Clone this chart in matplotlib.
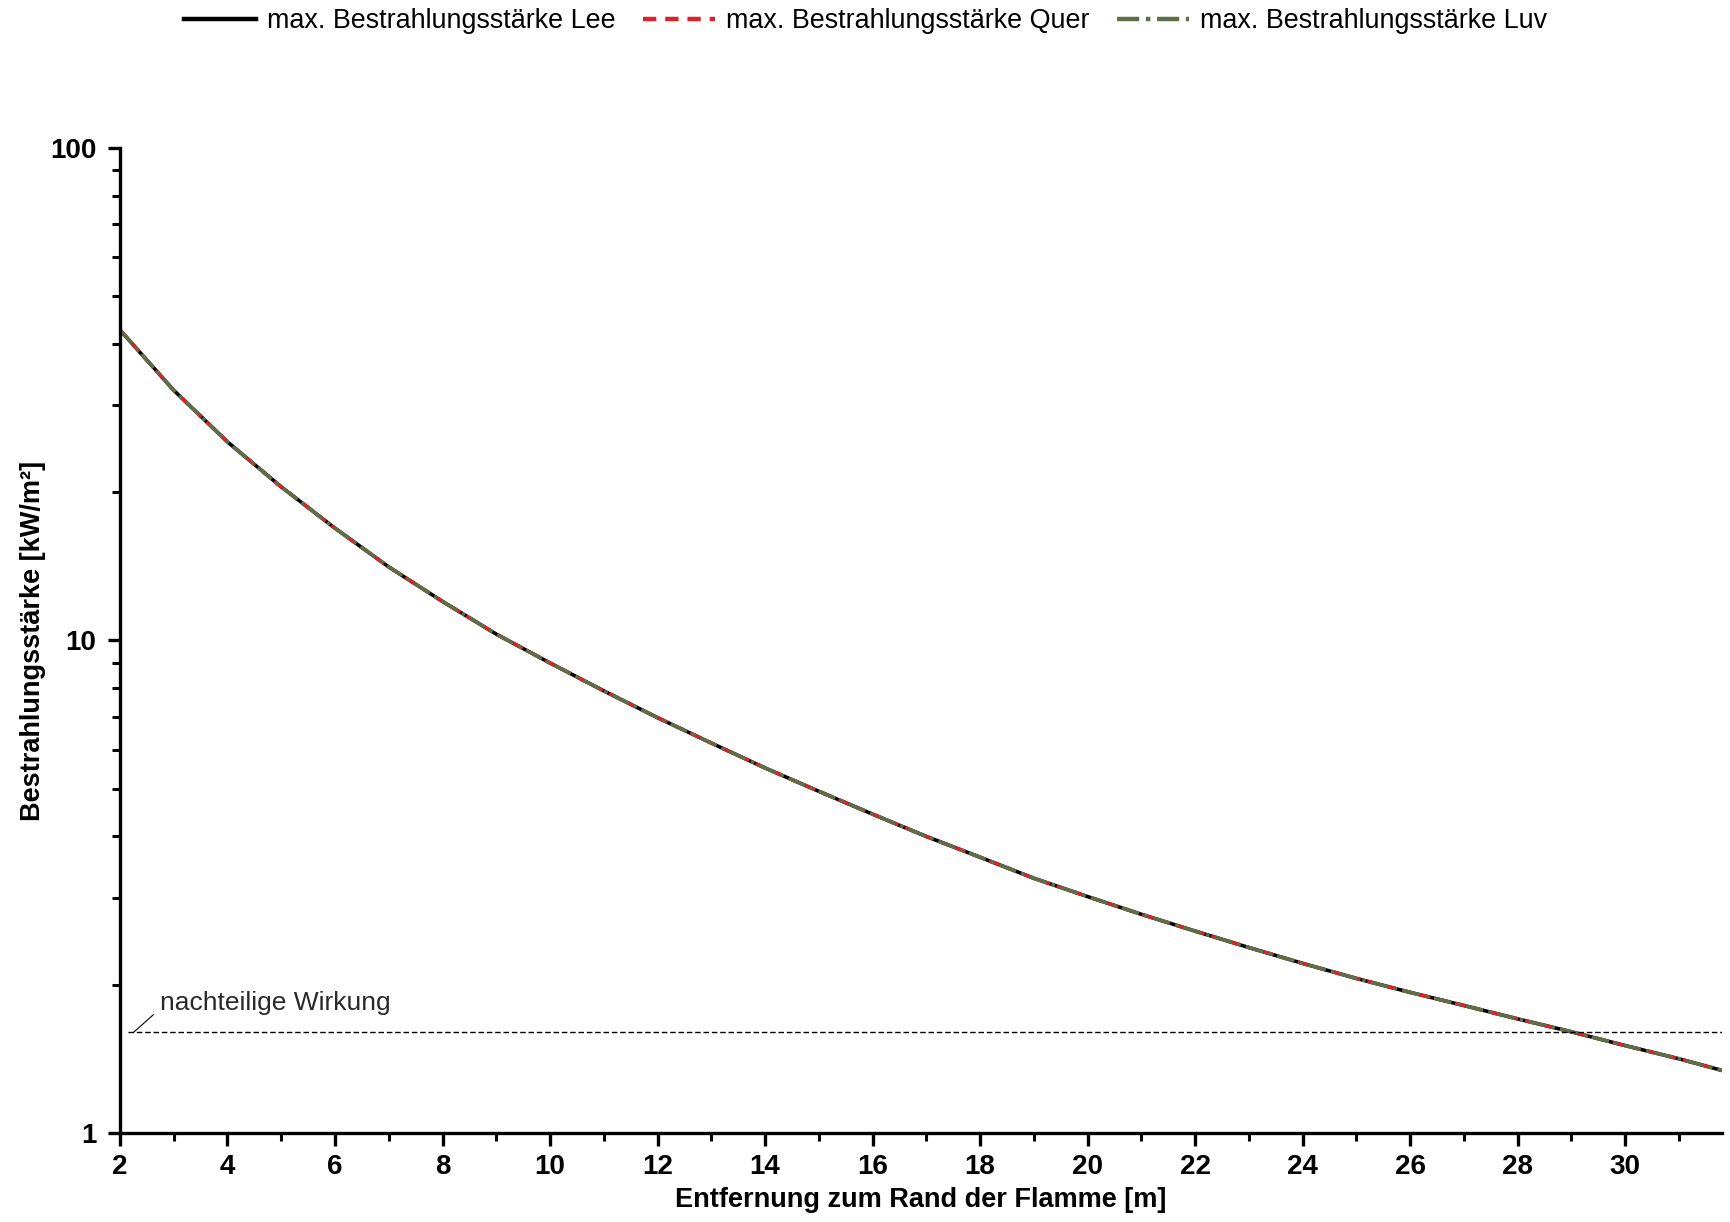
import matplotlib
matplotlib.use("Agg")
import matplotlib.pyplot as plt
from matplotlib.ticker import LogLocator, NullFormatter, FixedLocator, MultipleLocator

# ========== DATA ==========
distance = [2, 3, 4, 5, 6, 7, 8, 9, 10, 11, 12, 13, 14, 15, 16, 17, 18, 19, 20,
            21, 22, 23, 24, 25, 26, 27, 28, 29, 30, 31, 31.8]
irr_lee = [42.7, 32.2, 25.3, 20.5, 16.9, 14.1, 12.0, 10.3, 9.0, 7.9, 6.97, 6.19,
           5.51, 4.94, 4.44, 4.00, 3.63, 3.29, 3.02, 2.78, 2.57, 2.38, 2.21,
           2.06, 1.93, 1.815, 1.705, 1.605, 1.505, 1.415, 1.34]
irr_quer = list(irr_lee)
irr_luv = list(irr_lee)
threshold = 1.6
threshold_label = "nachteilige Wirkung"
labels = ["max. Bestrahlungsstärke Lee", "max. Bestrahlungsstärke Quer",
          "max. Bestrahlungsstärke Luv"]
# ==========================

plt.rcParams["font.family"] = ["Liberation Sans", "DejaVu Sans"]

fig = plt.figure(figsize=(17.31, 12.22), dpi=100)
ax = fig.add_axes([0.0693, 0.0728, 0.9255, 0.8062])

ax.plot(distance, irr_lee, color="black", lw=2.6, label=labels[0])
ax.plot(distance, irr_quer, color="#d8232a", lw=2.6, ls=(0, (3, 2)), label=labels[1])
ax.plot(distance, irr_luv, color="#5e6e48", lw=2.6, ls=(0, (5, 1.5, 1, 1.5)), label=labels[2])

ax.axhline(threshold, xmin=0.005, color="black", lw=1.0, ls=(0, (4, 2)))
ax.annotate(threshold_label, xy=(2.25, threshold), xytext=(2.75, 1.78),
            fontsize=19, color="#2a2a2a",
            arrowprops=dict(arrowstyle="-", color="black", lw=0.8,
                            shrinkA=0, shrinkB=0, relpos=(-0.03, 0.0)))

ax.set_yscale("log")
ax.set_ylim(1, 100)
ax.set_xlim(2, 31.8)
ax.xaxis.set_major_locator(MultipleLocator(2))
ax.xaxis.set_minor_locator(MultipleLocator(1))
ax.yaxis.set_major_locator(FixedLocator([1, 10, 100]))
ax.yaxis.set_minor_locator(LogLocator(base=10, subs=range(2, 10)))
ax.yaxis.set_minor_formatter(NullFormatter())
ax.set_yticklabels(["1", "10", "100"])

for side in ["top", "right"]:
    ax.spines[side].set_visible(False)
for side in ["left", "bottom"]:
    ax.spines[side].set_linewidth(2.4)

ax.tick_params(which="major", direction="out", length=9, width=2.4,
               labelsize=20)
ax.tick_params(axis="x", which="major", pad=6)
ax.tick_params(axis="y", which="major", pad=8)
ax.tick_params(which="minor", direction="out", length=6, width=2.2)
for lbl in ax.get_xticklabels() + ax.get_yticklabels():
    lbl.set_fontweight("bold")

ax.set_xlabel("Entfernung zum Rand der Flamme [m]", fontsize=19.5,
              fontweight="bold", labelpad=5)
ax.set_ylabel("Bestrahlungsstärke [kW/m²]", fontsize=19.5,
              fontweight="bold", labelpad=3)

leg = fig.legend(loc="upper center", bbox_to_anchor=(0.5, 1.013), ncol=3,
                 frameon=False, fontsize=19.4, handlelength=2.7,
                 columnspacing=1.0, handletextpad=0.4)
for line in leg.get_lines():
    line.set_linewidth(3.2)

fig.savefig("out.png", dpi=100)
